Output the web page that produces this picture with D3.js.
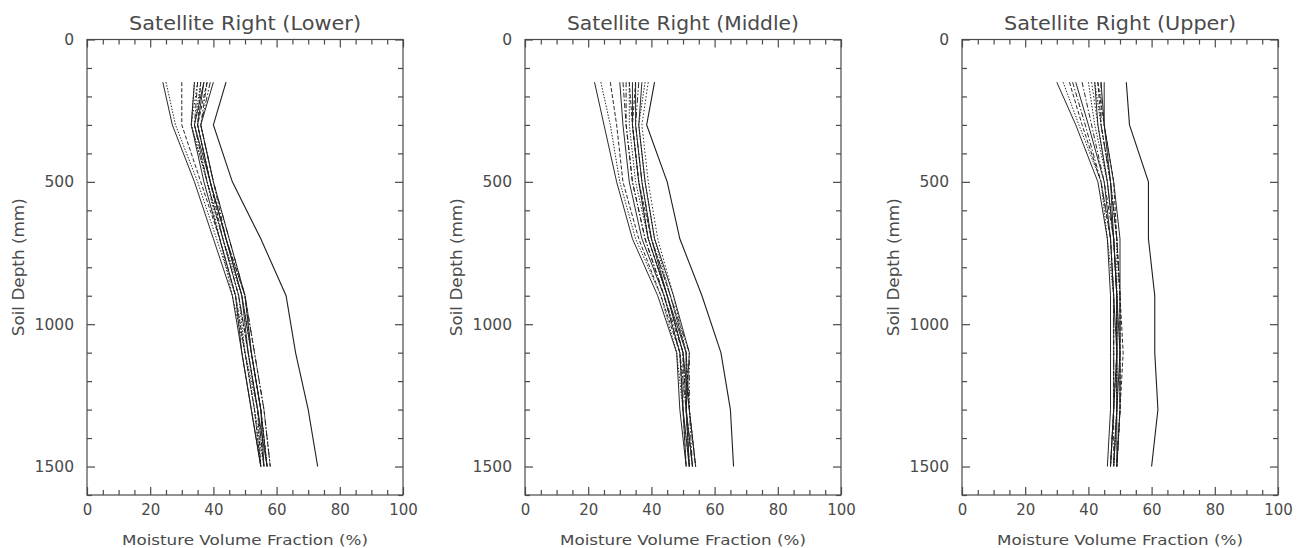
<!DOCTYPE html>
<html>
<head>
<meta charset="utf-8">
<script src="https://cdn.jsdelivr.net/npm/d3@7"></script>
<style>
  html, body { margin: 0; padding: 0; background: #fff; }
  svg { display: block; }
  text { font-family: "DejaVu Sans", sans-serif; fill: #4a4a4a; }
</style>
</head>
<body>
<svg id="chart" width="1301" height="548"></svg>
<script>
// ---- data ----
const depths = [150, 300, 500, 700, 900, 1100, 1300, 1500];
const panelTitles = ["Satellite Right (Lower)", "Satellite Right (Middle)", "Satellite Right (Upper)"];
const xMajorTicks = [0, 20, 40, 60, 80, 100];
const yMajorTicks = [0, 500, 1000, 1500];
const xLabel = "Moisture Volume Fraction (%)";
const yLabel = "Soil Depth (mm)";

// moisture (%) at each depth, one row per profile; last row is the wet outlier
const lowerProfiles = [
  [24, 27, 34, 40, 46, 49, 52, 55],
  [25, 28, 35, 41, 47, 50, 53, 56],
  [30, 30, 36, 42, 47, 50, 53, 55],
  [34, 33, 37, 42, 47, 49, 52, 55],
  [35, 34, 38, 43, 48, 51, 54, 56],
  [36, 34, 38, 43, 49, 52, 55, 57],
  [37, 35, 39, 44, 49, 52, 55, 56],
  [38, 35, 39, 44, 50, 52, 55, 57],
  [39, 36, 40, 45, 50, 53, 56, 58],
  [40, 36, 40, 45, 50, 52, 55, 57],
  [34, 33, 38, 43, 48, 50, 54, 56],
  [36, 35, 39, 43, 48, 51, 54, 55],
  [37, 34, 39, 44, 49, 51, 54, 57],
  [38, 36, 40, 44, 50, 53, 56, 58],
  [35, 33, 38, 42, 46, 50, 53, 55],
  [44, 40, 46, 55, 63, 66, 70, 73]
];
const middleProfiles = [
  [22, 25, 29, 34, 42, 48, 49, 51],
  [24, 27, 30, 35, 43, 48, 50, 52],
  [27, 29, 31, 36, 43, 49, 50, 51],
  [30, 31, 33, 37, 44, 49, 50, 52],
  [32, 32, 34, 38, 44, 50, 51, 53],
  [33, 33, 35, 39, 45, 50, 51, 52],
  [34, 34, 36, 39, 45, 51, 51, 53],
  [35, 34, 36, 40, 46, 51, 52, 54],
  [36, 35, 37, 40, 46, 52, 52, 53],
  [37, 36, 38, 41, 47, 52, 51, 52],
  [38, 36, 38, 41, 46, 51, 51, 53],
  [33, 34, 36, 39, 45, 50, 50, 51],
  [35, 35, 37, 40, 45, 50, 52, 54],
  [31, 32, 34, 38, 44, 49, 51, 52],
  [39, 37, 39, 42, 47, 51, 52, 54],
  [41, 38.5, 45, 49, 56, 62, 65, 66]
];
const upperProfiles = [
  [30, 36, 43, 46, 47, 47, 47, 46],
  [32, 37, 44, 46, 48, 48, 48, 47],
  [34, 38, 44, 47, 48, 48, 48, 47],
  [36, 40, 45, 47, 48, 49, 49, 48],
  [38, 41, 45, 48, 49, 49, 48, 48],
  [40, 42, 46, 48, 49, 49, 49, 48],
  [42, 43, 46, 48, 49, 50, 50, 49],
  [43, 44, 47, 49, 50, 50, 50, 49],
  [44, 44, 47, 49, 50, 50, 50, 49],
  [45, 45, 48, 50, 50, 50, 49, 49],
  [42, 44, 47, 49, 49, 49, 49, 48],
  [43, 45, 48, 49, 50, 51, 50, 49],
  [44, 45, 47, 48, 49, 49, 48, 47],
  [35, 39, 44, 47, 48, 48, 48, 47],
  [41, 43, 46, 48, 49, 49, 49, 48],
  [52, 53, 59, 59, 61, 61, 62, 60]
];
const allProfiles = [lowerProfiles, middleProfiles, upperProfiles];

// ---- layout ----
const panelLefts = [87, 525, 962];
const panelW = 316;
const plotTop = 39.5, plotBottom = 495;
const dashes = [null, "1.5,1.5", "4,2", null, "5,2,1.5,2", "1.5,1.5", null, "4,2", "6,2,1.5,2,1.5,2", null, "1.5,1.5", "4,2", null, "5,2,1.5,2", "1.5,2"];

const svg = d3.select("#chart");
const y = d3.scaleLinear().domain([0, 1600]).range([plotTop, plotBottom]);
const xMinor = d3.range(0, 101, 5).filter(v => v % 20 !== 0);
const yMinor = d3.range(0, 1601, 100).filter(v => v % 500 !== 0);

allProfiles.forEach((profiles, p) => {
  const left = panelLefts[p];
  const x = d3.scaleLinear().domain([0, 100]).range([left, left + panelW]);
  const g = svg.append("g");

  // frame
  g.append("rect").attr("x", left).attr("y", plotTop)
    .attr("width", panelW).attr("height", plotBottom - plotTop)
    .attr("fill", "none").attr("stroke", "#4a4a4a").attr("stroke-width", 1.2);

  const styleAxis = sel => {
    sel.select(".domain").remove();
    sel.selectAll(".tick line").attr("stroke", "#4a4a4a").attr("stroke-width", 1.2);
  };

  // bottom axis (labels) + minor
  g.append("g").attr("transform", `translate(0,${plotBottom})`)
    .call(d3.axisBottom(x).tickValues(xMajorTicks).tickSizeInner(-8).tickSizeOuter(0).tickPadding(9).tickFormat(d3.format("d")))
    .call(styleAxis)
    .call(s => s.selectAll("text").attr("font-size", 15).attr("fill", "#4a4a4a").attr("font-family", "DejaVu Sans"));
  g.append("g").attr("transform", `translate(0,${plotBottom})`)
    .call(d3.axisBottom(x).tickValues(xMinor).tickSizeInner(-5).tickSizeOuter(0).tickFormat(""))
    .call(styleAxis);
  // top axis
  g.append("g").attr("transform", `translate(0,${plotTop})`)
    .call(d3.axisTop(x).tickValues(xMajorTicks).tickSizeInner(-8).tickSizeOuter(0).tickFormat(""))
    .call(styleAxis);
  g.append("g").attr("transform", `translate(0,${plotTop})`)
    .call(d3.axisTop(x).tickValues(xMinor).tickSizeInner(-5).tickSizeOuter(0).tickFormat(""))
    .call(styleAxis);
  // left axis (labels)
  g.append("g").attr("transform", `translate(${left},0)`)
    .call(d3.axisLeft(y).tickValues(yMajorTicks).tickSizeInner(-8).tickSizeOuter(0).tickPadding(13).tickFormat(d3.format("d")))
    .call(styleAxis)
    .call(s => s.selectAll("text").attr("font-size", 15.5).attr("fill", "#4a4a4a").attr("font-family", "DejaVu Sans"));
  g.append("g").attr("transform", `translate(${left},0)`)
    .call(d3.axisLeft(y).tickValues(yMinor).tickSizeInner(-5).tickSizeOuter(0).tickFormat(""))
    .call(styleAxis);
  // right axis
  g.append("g").attr("transform", `translate(${left + panelW},0)`)
    .call(d3.axisRight(y).tickValues(yMajorTicks).tickSizeInner(-8).tickSizeOuter(0).tickFormat(""))
    .call(styleAxis);
  g.append("g").attr("transform", `translate(${left + panelW},0)`)
    .call(d3.axisRight(y).tickValues(yMinor).tickSizeInner(-5).tickSizeOuter(0).tickFormat(""))
    .call(styleAxis);

  // profiles
  const line = d3.line().x(d => x(d[0])).y(d => y(d[1]));
  profiles.forEach((vals, i) => {
    const pts = vals.map((v, k) => [v, depths[k]]);
    const outlier = i === profiles.length - 1;
    g.append("path").attr("d", line(pts))
      .attr("fill", "none")
      .attr("stroke", "#1e1e1e")
      .attr("stroke-width", outlier ? 1.1 : 0.95)
      .attr("stroke-dasharray", outlier ? null : dashes[i % dashes.length]);
  });

  // titles
  const cx = left + panelW / 2;
  g.append("text").attr("x", cx).attr("y", 29.5).attr("text-anchor", "middle")
    .attr("font-size", 19).attr("textLength", 232).attr("lengthAdjust", "spacingAndGlyphs")
    .text(panelTitles[p]);
  g.append("text").attr("x", cx).attr("y", 545).attr("text-anchor", "middle")
    .attr("font-size", 14).attr("textLength", 246).attr("lengthAdjust", "spacingAndGlyphs")
    .text(xLabel);
  g.append("text").attr("transform", `translate(${left - 63},${(plotTop + plotBottom) / 2}) rotate(-90)`)
    .attr("text-anchor", "middle").attr("font-size", 15)
    .attr("textLength", 138).attr("lengthAdjust", "spacingAndGlyphs")
    .text(yLabel);
});
</script>
</body>
</html>
